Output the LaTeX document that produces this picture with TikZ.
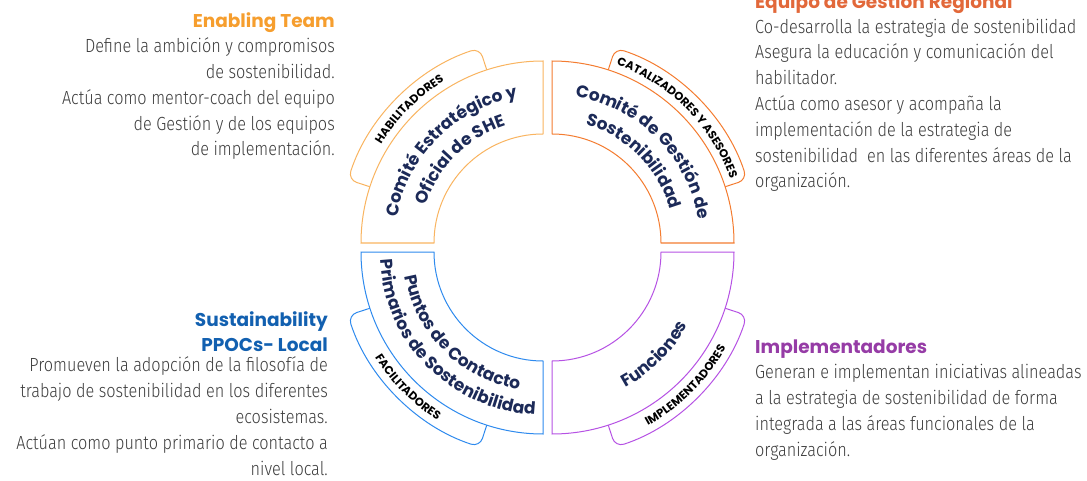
\documentclass[tikz,border=0pt]{standalone}
\usepackage{fontspec}
\usetikzlibrary{decorations.text, positioning}
\definecolor{HabColor}{RGB}{249,180,96}
\definecolor{CatColor}{RGB}{244,124,48}
\definecolor{FacColor}{RGB}{46,138,238}
\definecolor{ImpColor}{RGB}{182,82,228}
\definecolor{HabTitle}{RGB}{246,158,46}
\definecolor{CatTitle}{RGB}{226,104,58}
\definecolor{FacTitle}{RGB}{18,96,176}
\definecolor{ImpTitle}{RGB}{150,60,166}
\definecolor{QuadText}{RGB}{28,42,88}
\definecolor{BodyText}{RGB}{60,60,60}
\newfontfamily\headfont{Poppins}
\IfFontExistsTF{Fira Sans Light}
  {\newfontfamily\bodyfont[FakeStretch=0.855]{Fira Sans Light}}
  {\newfontfamily\bodyfont[FakeStretch=0.855]{Fira Sans}}
\newcommand{\quadfont}{\headfont\bfseries\fontsize{17}{20}\selectfont}
\newcommand{\tablabelfont}{\headfont\bfseries\fontsize{11.5}{13}\selectfont}
\tikzstyle{quad} = [line width=1pt, fill=white]
\tikzstyle{tab} = [line width=1pt, fill=white, rounded corners=9pt]
\tikzstyle{title} = [inner sep=0pt, font={\headfont\bfseries\fontsize{18.5}{25}\selectfont}]
\tikzstyle{body} = [inner sep=0pt, text=BodyText, font={\bodyfont\fontsize{19}{25.8}\selectfont}]
\tikzstyle{arctext} = [decorate, decoration={text along path, text align=center, text color=QuadText}]
\tikzstyle{tabtext} = [decorate, decoration={text along path, text align=center, text color=black}]

\begin{document}
\begin{tikzpicture}[x=1pt, y=1pt]
    \useasboundingbox (0,0) rectangle (1087,480);

    % Tabs and ring quadrants
    \foreach \cx/\cy/\a/\col in {543/237/90/HabColor, 552/237/0/CatColor, 543/228/180/FacColor, 552/228/270/ImpColor} {
            \begin{scope}[shift={(\cx,\cy)}]
                \draw[tab, draw=\col] (\a+18:182pt) -- (\a+18:205pt) arc[start angle=\a+18, end angle=\a+72, radius=205pt] -- (\a+72:182pt);
                \draw[quad, draw=\col] (\a:182pt) arc[start angle=\a, end angle=\a+90, radius=182pt]
                    -- (\a+90:109pt) arc[start angle=\a+90, end angle=\a, radius=109pt] -- cycle;
            \end{scope}
        }

    % Top-left quadrant
    \begin{scope}[shift={(543,237)}]
        \path[arctext, decoration={text={|\quadfont|Comité Estratégico y}}] (180:148pt) arc[start angle=180, end angle=90, radius=148pt];
        \path[arctext, decoration={text={|\quadfont|Oficial de SHE}}] (180:123pt) arc[start angle=180, end angle=90, radius=123pt];
        \path[tabtext, decoration={text={|\tablabelfont|HABILITADORES}}] (180:189.5pt) arc[start angle=180, end angle=90, radius=189.5pt];
    \end{scope}

    % Top-right quadrant
    \begin{scope}[shift={(552,237)}]
        \path[arctext, decoration={text={|\quadfont|Comité de Gestión de}}] (90:148pt) arc[start angle=90, end angle=0, radius=148pt];
        \path[arctext, decoration={text={|\quadfont|Sostenibilidad}}] (90:123pt) arc[start angle=90, end angle=0, radius=123pt];
        \path[tabtext, decoration={text={|\tablabelfont|CATALIZADORES Y ASESORES}}] (90:189.5pt) arc[start angle=90, end angle=0, radius=189.5pt];
    \end{scope}

    % Bottom-left quadrant
    \begin{scope}[shift={(543,228)}]
        \path[arctext, decoration={text={|\quadfont|Puntos de Contacto}}] (180:140pt) arc[start angle=180, end angle=270, radius=140pt];
        \path[arctext, decoration={text={|\quadfont|Primarios de Sostenibilidad}}] (180:163pt) arc[start angle=180, end angle=270, radius=163pt];
        \path[tabtext, decoration={text={|\tablabelfont|FACILITADORES}}] (180:198.5pt) arc[start angle=180, end angle=270, radius=198.5pt];
    \end{scope}

    % Bottom-right quadrant
    \begin{scope}[shift={(552,228)}]
        \path[arctext, decoration={text={|\quadfont|Funciones}}] (270:154pt) arc[start angle=270, end angle=360, radius=154pt];
        \path[tabtext, decoration={text={|\tablabelfont|IMPLEMENTADORES}}] (270:198.5pt) arc[start angle=270, end angle=360, radius=198.5pt];
    \end{scope}

    % Descriptions
    \node[title, text=HabTitle, anchor=base east] (habTitle) at (335,452) {Enabling Team};
    \node[body, align=right, anchor=base east] (habBody) at (335,324) {Define la ambición y compromisos\\de sostenibilidad.\\Actúa como mentor-coach del equipo\\de Gestión y de los equipos\\de implementación.};

    \node[title, text=CatTitle, anchor=base west] (catTitle) at (755,471) {Equipo de Gestión Regional};
    \node[body, align=left, anchor=base west] (catBody) at (755,292) {Co-desarrolla la estrategia de sostenibilidad\\Asegura la educación y comunicación del\\habilitador.\\Actúa como asesor y acompaña la\\implementación de la estrategia de\\sostenibilidad\ \ en las diferentes áreas de la\\organización.};

    \node[title, text=FacTitle, align=right, anchor=base east] (facTitle) at (328,129) {Sustainability\\PPOCs- Local};
    \node[body, align=right, anchor=base east] (facBody) at (328,5) {Promueven la adopción de la filosofía de\\trabajo de sostenibilidad en los diferentes\\ecosistemas.\\Actúan como punto primario de contacto a\\nivel local.};

    \node[title, text=ImpTitle, anchor=base west] (impTitle) at (755,127) {Implementadores};
    \node[body, align=left, anchor=base west] (impBody) at (755,24) {Generan e implementan iniciativas alineadas\\a la estrategia de sostenibilidad de forma\\integrada a las áreas funcionales de la\\organización.};
\end{tikzpicture}
\end{document}
